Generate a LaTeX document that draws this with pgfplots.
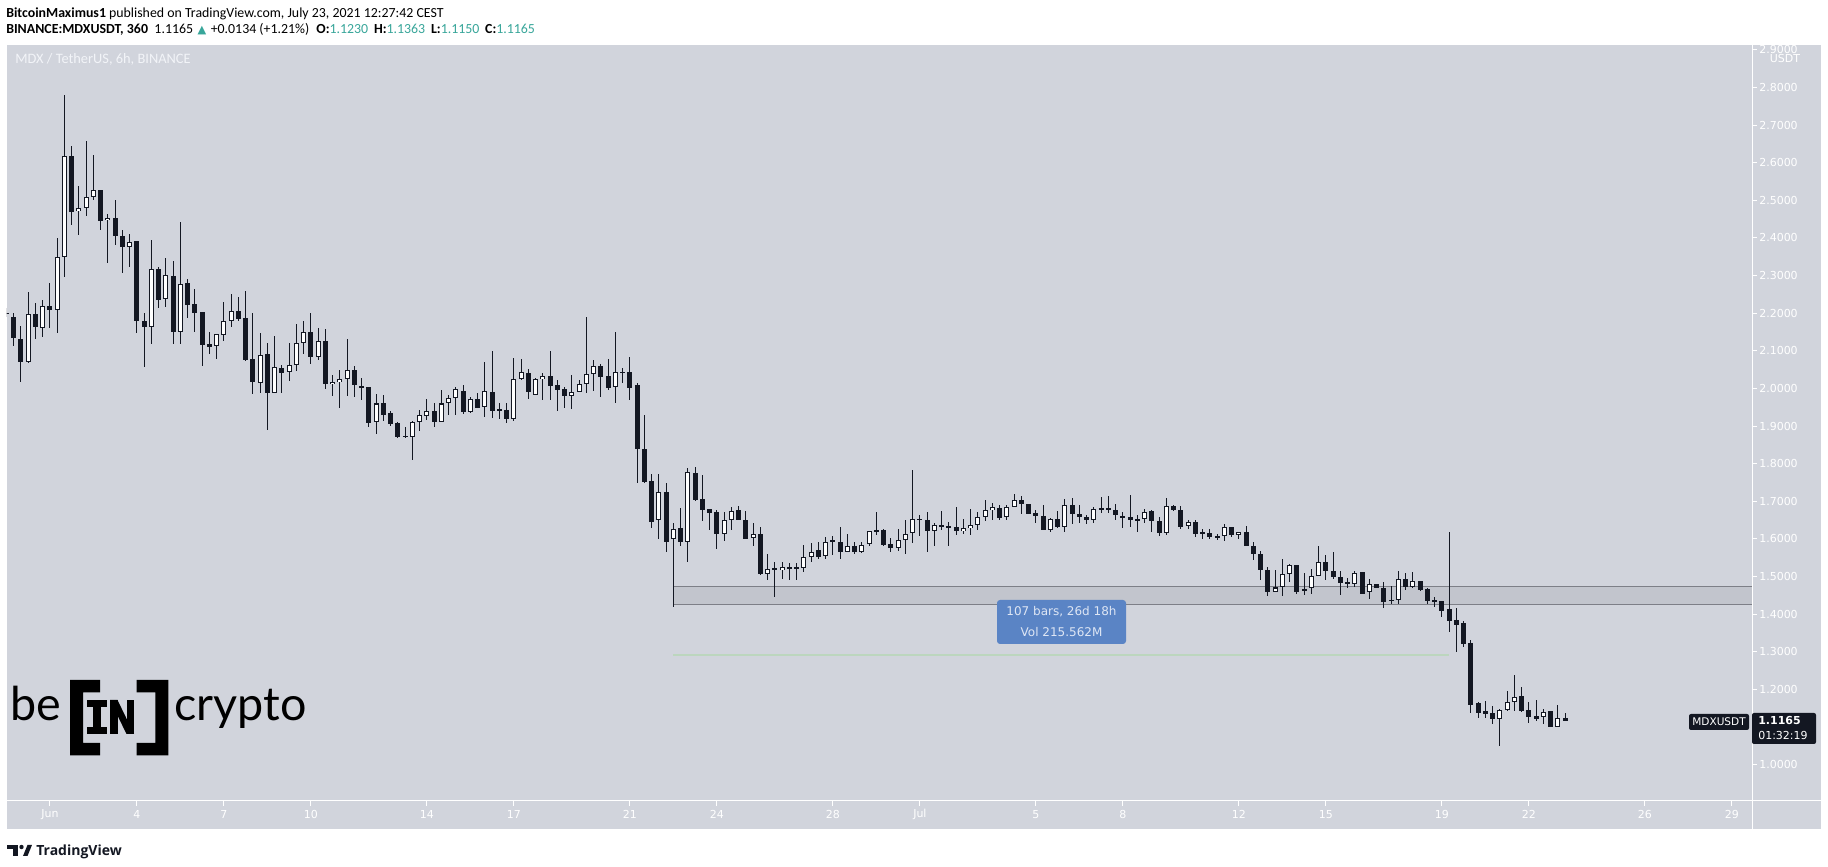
\documentclass[border=0pt]{standalone}
\usepackage{pgfplots}
\pgfplotsset{compat=1.18}
\usepackage{pgfplotstable}
\usepackage{fontspec}
\setmainfont{Carlito}
\newfontfamily\dv{DejaVu Sans}
\newfontfamily\lato{Lato}
\newfontfamily\osans{Open Sans}
\definecolor{panel}{RGB}{209,212,220}
\definecolor{candle}{RGB}{19,23,34}
\definecolor{tvteal}{RGB}{56,166,154}
\definecolor{rectfill}{RGB}{194,197,205}
\definecolor{rectdraw}{RGB}{125,127,135}
\definecolor{boxblue}{RGB}{90,132,197}
\definecolor{boxtext}{RGB}{222,230,244}
\definecolor{glight}{RGB}{188,214,190}
\definecolor{paneltext}{RGB}{242,244,248}
\tikzset{px/.style={x=0.75pt,y=-0.75pt,shift={(-5.25pt,600.75pt)}}}
\pgfplotstableread{
d o h l c
-1.5 2.200 2.213 2.191 2.200
-1.25 2.189 2.200 2.114 2.135
-1.0 2.131 2.166 2.018 2.071
-0.75 2.071 2.255 2.068 2.197
-0.5 2.197 2.228 2.131 2.162
-0.25 2.160 2.235 2.138 2.218
0 2.219 2.280 2.160 2.209
0.25 2.208 2.400 2.146 2.348
0.5 2.348 2.781 2.295 2.617
0.75 2.617 2.644 2.435 2.470
1.0 2.471 2.538 2.409 2.479
1.25 2.479 2.658 2.459 2.508
1.5 2.508 2.620 2.500 2.527
1.75 2.527 2.527 2.422 2.446
2.0 2.447 2.463 2.334 2.453
2.25 2.453 2.501 2.380 2.404
2.5 2.405 2.421 2.308 2.377
2.75 2.375 2.411 2.324 2.388
3.0 2.392 2.392 2.148 2.178
3.25 2.179 2.200 2.056 2.164
3.5 2.162 2.394 2.119 2.317
3.75 2.317 2.322 2.214 2.236
4.0 2.237 2.347 2.217 2.301
4.25 2.298 2.339 2.119 2.151
4.5 2.149 2.442 2.119 2.277
4.75 2.280 2.290 2.188 2.223
5.0 2.224 2.264 2.151 2.201
5.25 2.202 2.202 2.059 2.116
5.5 2.118 2.150 2.092 2.111
5.75 2.114 2.144 2.079 2.144
6.0 2.141 2.231 2.125 2.178
6.25 2.178 2.251 2.162 2.206
6.5 2.206 2.243 2.180 2.185
6.75 2.187 2.260 2.074 2.076
7.0 2.078 2.200 1.984 2.018
7.25 2.014 2.147 1.989 2.088
7.5 2.092 2.121 1.889 1.989
7.75 1.989 2.139 1.987 2.057
8.0 2.054 2.062 1.987 2.042
8.25 2.043 2.120 2.021 2.062
8.5 2.061 2.172 2.047 2.120
8.75 2.120 2.180 2.092 2.149
9.0 2.149 2.200 2.066 2.084
9.25 2.084 2.161 2.076 2.125
9.5 2.125 2.158 1.999 2.011
9.75 2.011 2.037 1.979 2.017
10.0 2.016 2.050 1.949 2.024
10.25 2.024 2.132 1.979 2.048
10.5 2.049 2.060 1.978 2.010
10.75 2.006 2.028 1.968 2.002
11.0 2.004 2.004 1.898 1.909
11.25 1.912 1.985 1.879 1.960
11.5 1.960 1.982 1.914 1.930
11.75 1.935 1.939 1.900 1.906
12.0 1.908 1.911 1.867 1.872
12.25 1.874 1.898 1.867 1.872
12.5 1.870 1.914 1.810 1.910
12.75 1.910 1.943 1.888 1.929
13.0 1.928 1.972 1.915 1.939
13.25 1.939 1.960 1.898 1.912
13.5 1.912 1.996 1.912 1.960
13.75 1.960 1.983 1.930 1.974
14.0 1.974 2.003 1.930 1.999
14.25 1.992 2.008 1.933 1.937
14.5 1.938 1.976 1.936 1.971
14.75 1.971 1.987 1.949 1.949
15.0 1.950 2.069 1.925 1.992
15.25 1.990 2.100 1.922 1.941
15.5 1.944 1.960 1.920 1.942
15.75 1.944 1.960 1.909 1.920
16.0 1.920 2.080 1.914 2.024
16.25 2.026 2.077 2.022 2.043
16.5 2.040 2.051 1.971 1.991
16.75 1.983 2.027 1.982 2.024
17.0 2.026 2.040 1.970 2.032
17.25 2.032 2.100 1.970 2.007
17.5 2.008 2.022 1.941 1.997
17.75 1.998 2.003 1.949 1.981
18.0 1.981 2.035 1.946 1.991
18.25 1.991 2.022 1.990 2.011
18.5 2.011 2.189 1.989 2.038
18.75 2.038 2.076 1.994 2.059
19.0 2.060 2.064 1.978 2.031
19.25 2.032 2.077 1.997 2.002
19.5 2.003 2.149 1.960 2.043
19.75 2.043 2.053 2.015 2.042
20.0 2.043 2.083 1.970 2.002
20.25 2.008 2.014 1.750 1.838
20.5 1.838 1.929 1.750 1.752
20.75 1.754 1.772 1.630 1.646
21.0 1.650 1.772 1.599 1.724
21.25 1.725 1.749 1.566 1.593
21.5 1.599 1.642 1.418 1.626
21.75 1.628 1.681 1.580 1.593
22.0 1.593 1.788 1.540 1.777
22.25 1.775 1.790 1.702 1.704
22.5 1.706 1.770 1.649 1.678
22.75 1.679 1.679 1.624 1.670
23.0 1.671 1.678 1.574 1.614
23.25 1.612 1.671 1.595 1.650
23.5 1.650 1.684 1.624 1.674
23.75 1.676 1.687 1.650 1.650
24.0 1.650 1.674 1.599 1.601
24.25 1.602 1.642 1.580 1.612
24.5 1.612 1.631 1.505 1.507
24.75 1.508 1.559 1.491 1.521
25.0 1.522 1.538 1.447 1.517
25.25 1.517 1.538 1.493 1.525
25.5 1.525 1.535 1.491 1.522
25.75 1.525 1.535 1.491 1.522
26.0 1.522 1.583 1.513 1.553
26.25 1.552 1.589 1.540 1.566
26.5 1.570 1.593 1.548 1.553
26.75 1.554 1.606 1.546 1.593
27.0 1.597 1.608 1.557 1.594
27.25 1.593 1.631 1.548 1.564
27.5 1.564 1.612 1.564 1.580
27.75 1.580 1.592 1.559 1.564
28.0 1.564 1.591 1.563 1.583
28.25 1.586 1.622 1.580 1.620
28.5 1.624 1.672 1.610 1.620
28.75 1.624 1.626 1.582 1.584
29.0 1.586 1.602 1.564 1.577
29.25 1.575 1.626 1.569 1.596
29.5 1.596 1.650 1.560 1.612
29.75 1.615 1.783 1.588 1.652
30.0 1.654 1.663 1.608 1.650
30.25 1.650 1.671 1.565 1.621
30.5 1.621 1.642 1.580 1.637
30.75 1.636 1.674 1.624 1.635
31.0 1.634 1.644 1.580 1.631
31.25 1.631 1.685 1.611 1.620
31.5 1.620 1.652 1.613 1.628
31.75 1.628 1.680 1.611 1.636
32.0 1.636 1.672 1.623 1.658
32.25 1.658 1.704 1.649 1.676
32.5 1.676 1.695 1.650 1.684
32.75 1.681 1.689 1.650 1.657
33.0 1.658 1.689 1.650 1.685
33.25 1.685 1.720 1.684 1.703
33.5 1.704 1.713 1.667 1.692
33.75 1.692 1.692 1.667 1.667
34.0 1.669 1.677 1.643 1.660
34.25 1.662 1.689 1.623 1.623
34.5 1.623 1.657 1.619 1.652
34.75 1.652 1.674 1.630 1.631
35.0 1.631 1.705 1.619 1.689
35.25 1.689 1.710 1.639 1.665
35.5 1.665 1.689 1.642 1.657
35.75 1.658 1.664 1.639 1.650
36.0 1.650 1.684 1.642 1.679
36.25 1.681 1.712 1.670 1.679
36.5 1.681 1.713 1.670 1.676
36.75 1.676 1.692 1.650 1.663
37.0 1.660 1.671 1.630 1.658
37.25 1.658 1.717 1.633 1.650
37.5 1.652 1.663 1.619 1.650
37.75 1.652 1.679 1.642 1.671
38.0 1.673 1.677 1.619 1.649
38.25 1.647 1.657 1.609 1.617
38.5 1.615 1.708 1.610 1.687
38.75 1.687 1.691 1.673 1.676
39.0 1.676 1.687 1.627 1.633
39.25 1.634 1.650 1.627 1.644
39.5 1.644 1.650 1.606 1.612
39.75 1.618 1.627 1.600 1.614
40.0 1.617 1.627 1.601 1.604
40.25 1.607 1.612 1.596 1.606
40.5 1.607 1.639 1.594 1.631
40.75 1.631 1.632 1.604 1.611
41.0 1.611 1.618 1.599 1.618
41.25 1.618 1.634 1.582 1.582
41.5 1.582 1.591 1.545 1.559
41.75 1.559 1.569 1.490 1.518
42.0 1.517 1.526 1.449 1.458
42.25 1.458 1.517 1.458 1.471
42.5 1.471 1.548 1.449 1.506
42.75 1.506 1.534 1.486 1.530
43.0 1.530 1.530 1.455 1.459
43.25 1.461 1.509 1.452 1.466
43.5 1.469 1.519 1.455 1.501
43.75 1.501 1.581 1.501 1.538
44.0 1.538 1.557 1.492 1.514
44.25 1.514 1.564 1.493 1.499
44.5 1.498 1.515 1.452 1.484
44.75 1.486 1.496 1.469 1.479
45.0 1.479 1.515 1.471 1.509
45.25 1.512 1.512 1.455 1.455
45.5 1.458 1.493 1.440 1.479
45.75 1.479 1.479 1.469 1.469
46.0 1.469 1.486 1.416 1.433
46.25 1.437 1.474 1.428 1.436
46.5 1.437 1.515 1.428 1.493
46.75 1.493 1.510 1.465 1.471
47.0 1.471 1.512 1.470 1.488
47.25 1.487 1.487 1.463 1.464
47.5 1.466 1.469 1.428 1.436
47.75 1.436 1.446 1.420 1.435
48.0 1.434 1.434 1.393 1.409
48.25 1.414 1.618 1.354 1.383
48.5 1.384 1.416 1.300 1.372
48.75 1.377 1.381 1.314 1.322
49.0 1.323 1.331 1.138 1.160
49.25 1.164 1.167 1.123 1.138
49.5 1.143 1.169 1.123 1.136
49.75 1.137 1.155 1.107 1.122
50.0 1.122 1.147 1.051 1.145
50.25 1.145 1.195 1.144 1.166
50.5 1.166 1.239 1.144 1.181
50.75 1.182 1.207 1.139 1.144
51.0 1.145 1.168 1.112 1.128
51.25 1.130 1.172 1.117 1.122
51.5 1.126 1.147 1.109 1.139
51.75 1.143 1.144 1.099 1.101
52.0 1.101 1.159 1.101 1.123
52.25 1.1230 1.1363 1.1150 1.1165
}\candles
\begin{document}
\begin{tikzpicture}
\begin{scope}[px]
\path[use as bounding box] (0,0) rectangle (1828,867);
\fill[white] (0,0) rectangle (1828,867);
\fill[panel] (7,45) rectangle (1821,829);
\end{scope}
\begin{axis}[
  at={(0,0)}, anchor=south west,
  scale only axis, width=1308.75pt, height=567pt,
  xmin=-1.479, xmax=58.693, ymin=0.9036, ymax=2.9127,
  axis line style={draw=none},
  xtick pos=bottom, ytick pos=right, yticklabel pos=right,
  tick align=outside, major tick length=3.75pt,
  major tick style={draw=white, line width=0.75pt},
  xtick={0,3,6,9,13,16,20,23,27,30,34,37,41,44,48,51,55,58},
  xticklabels={Jun,4,7,10,14,17,21,24,28,Jul,5,8,12,15,19,22,26,29},
  ytick={1.0,1.2,1.3,1.4,1.5,1.6,1.7,1.8,1.9,2.0,2.1,2.2,2.3,2.4,2.5,2.6,2.7,2.8,2.9},
  scaled y ticks=false,
  /pgf/number format/assume math mode=true,
  yticklabel style={/pgf/number format/fixed, /pgf/number format/fixed zerofill, /pgf/number format/precision=4, anchor=west, inner sep=0pt, xshift=1.5pt},
  xticklabel style={anchor=center, inner sep=0pt, yshift=-6.4pt},
  ticklabel style={font=\dv\fontsize{8.25}{10}\selectfont, text=white},
  clip=true,
]
% date-price range rectangle
\addplot[fill=rectfill, draw=rectdraw, line width=0.75pt, forget plot] coordinates {(21.5,1.426) (60,1.426) (60,1.474) (21.5,1.474)} -- cycle;
% green line
\addplot[glight, line width=1.5pt, forget plot] coordinates {(21.5,1.291) (48.25,1.291)};
% wicks
\addplot[draw=none, forget plot, error bars/.cd, y dir=both, y explicit, error mark=none,
  error bar style={draw=candle, line width=0.75pt}]
  table[x=d, y expr={(\thisrow{h}+\thisrow{l})/2},
    y error plus expr={(\thisrow{h}-\thisrow{l})/2},
    y error minus expr={(\thisrow{h}-\thisrow{l})/2}] {\candles};
% bodies (dark outer)
\addplot[draw=none, forget plot, error bars/.cd, y dir=both, y explicit, error mark=none,
  error bar style={draw=candle, line width=3.75pt}]
  table[x=d, y expr={(\thisrow{o}+\thisrow{c})/2},
    y error plus expr={max(abs(\thisrow{o}-\thisrow{c})/2,0.0015)},
    y error minus expr={max(abs(\thisrow{o}-\thisrow{c})/2,0.0015)}] {\candles};
% up candles: white inner
\addplot[draw=none, forget plot, error bars/.cd, y dir=both, y explicit, error mark=none,
  error bar style={draw=white, line width=2.1pt}]
  table[x=d, y expr={(\thisrow{o}+\thisrow{c})/2},
    y error plus expr={(\thisrow{c}>\thisrow{o}) ? max((\thisrow{c}-\thisrow{o})/2-0.0027,0) : 0},
    y error minus expr={(\thisrow{c}>\thisrow{o}) ? max((\thisrow{c}-\thisrow{o})/2-0.0027,0) : 0}] {\candles};
\end{axis}
\begin{scope}[px]
% separators
\draw[white, line width=0.75pt] (1752,45) -- (1752,829);
\draw[white, line width=0.75pt] (7,801) -- (1821,801);
% cover top of clipped 2.9000 label
\fill[white] (1740,0) rectangle (1828,45);
\node[anchor=center, inner sep=0pt, text=white, font=\dv\fontsize{8.25}{10}\selectfont] at (1785,59) {USDT};
% header
\node[anchor=base west, inner sep=0pt] at (6,18) {\fontsize{10.4}{12}\selectfont\textbf{BitcoinMaximus1} published on TradingView.com, July 23, 2021 12:27:42 CEST};
\node[anchor=base west, inner sep=0pt] at (6,33.5) {\fontsize{10.4}{12}\selectfont\textbf{BINANCE:MDXUSDT, 360}\hspace{2.5pt} 1.1165\hspace{1pt} {\color{tvteal}\dv\fontsize{8.5}{9}\selectfont ▲}\hspace{1pt} +0.0134 (+1.21\%)\hspace{3pt} \textbf{O:}{\color{tvteal}1.1230}\hspace{2pt} \textbf{H:}{\color{tvteal}1.1363}\hspace{2pt} \textbf{L:}{\color{tvteal}1.1150}\hspace{2pt} \textbf{C:}{\color{tvteal}1.1165}};
\node[anchor=base west, inner sep=0pt, text=paneltext] at (15,64) {\fontsize{10.8}{12}\selectfont MDX / TetherUS, 6h, BINANCE};
% range info box
\fill[boxblue, rounded corners=2.25pt] (997,600) rectangle (1126,644);
\node[text=boxtext, font=\dv\fontsize{9}{11}\selectfont, inner sep=0pt] at (1061.5,612) {107 bars, 26d 18h};
\node[text=boxtext, font=\dv\fontsize{9}{11}\selectfont, inner sep=0pt] at (1061.5,632) {Vol 215.562M};
% price labels
\fill[candle, rounded corners=1.5pt] (1689,714) rectangle (1749,730);
\node[text=white, font=\dv\fontsize{7.9}{10}\selectfont, inner sep=0pt] at (1719,722) {MDXUSDT};
\fill[candle, rounded corners=1.5pt] (1752,713) rectangle (1816,744);
\node[anchor=base west, text=white, font=\dv\bfseries\fontsize{8.25}{10}\selectfont, inner sep=0pt] at (1758,725) {1.1165};
\node[anchor=base west, text=white, font=\dv\fontsize{8.25}{10}\selectfont, inner sep=0pt] at (1758,740) {01:32:19};
% beincrypto logo
\node[anchor=base west, inner sep=0pt] at (10,721) {\lato\fontsize{35}{40}\selectfont be};
\fill[black] (70,680) -- (100,680) -- (100,692.5) -- (83,692.5) -- (83,743) -- (100,743) -- (100,755.5) -- (70,755.5) -- cycle;
\fill[black] (168.3,680) -- (136.7,680) -- (136.7,692.5) -- (155.3,692.5) -- (155.3,743) -- (136.7,743) -- (136.7,755.5) -- (168.3,755.5) -- cycle;
\fill[black] (87,700) rectangle (107,707);
\fill[black] (93,700) rectangle (101,734);
\fill[black] (87,727) rectangle (107,734);
\fill[black] (110,700) rectangle (117.5,734);
\fill[black] (126.5,700) rectangle (134,734);
\fill[black] (110,700) -- (117.5,700) -- (134,734) -- (126.5,734) -- cycle;
\node[anchor=base west, inner sep=0pt] at (174,721) {\lato\fontsize{35}{40}\selectfont crypto};
% TradingView logo
\fill[candle] (7,845) rectangle (18,849);
\fill[candle] (13,849) rectangle (18,856);
\fill[candle] (21.5,847) circle (2.2);
\fill[candle] (23,856) -- (27.5,845) -- (32,845) -- (27.5,856) -- cycle;
\node[anchor=base west, inner sep=0pt, text=candle] at (36,855.5) {\osans\bfseries\fontsize{10.5}{12}\selectfont TradingView};
\end{scope}
\end{tikzpicture}
\end{document}
